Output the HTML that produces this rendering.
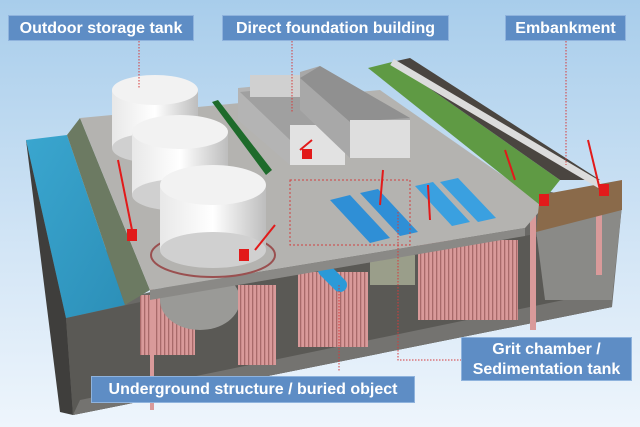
<!DOCTYPE html>
<html><head><meta charset="utf-8"><style>
html,body{margin:0;padding:0;}
body{width:640px;height:427px;overflow:hidden;background:linear-gradient(#a8cdeb,#d4e6f6 60%,#eef5fc);font-family:"Liberation Sans",sans-serif;position:relative;}
.lb{position:absolute;background:#5e8dc5;color:#fff;font-weight:bold;font-size:16px;line-height:26px;text-align:center;border:1px solid #8fb3dd;box-sizing:border-box;}
svg{position:absolute;left:0;top:0;}
</style></head><body>
<svg width="640" height="427" viewBox="0 0 640 427">
<defs>
<pattern id="pk" width="4" height="10" patternUnits="userSpaceOnUse"><rect width="4" height="10" fill="#d99a9a"/><rect width="1.3" height="10" fill="#a86a6a"/></pattern>
<linearGradient id="tk" x1="0" x2="1"><stop offset="0" stop-color="#e8e8e8"/><stop offset=".5" stop-color="#fff"/><stop offset="1" stop-color="#bdbdbd"/></linearGradient>
<linearGradient id="wt" x1="0" x2="1" y1="0" y2="1"><stop offset="0" stop-color="#3aa6cf"/><stop offset="1" stop-color="#2c8fb8"/></linearGradient>
</defs>
<!-- soil block -->
<polygon points="26,140 73,415 612,307 622,205 540,190 139,295" fill="#6a6966"/>
<polygon points="26,140 66,318 73,415 60,412" fill="#3f3e3c"/>
<polygon points="150,300 530,235 612,260 612,307 73,415 66,318" fill="#5a5955"/>
<polygon points="80,400 612,290 612,307 73,415" fill="#747370"/>
<polygon points="536,230 622,205 612,300 545,300" fill="#8a8a87"/>
<!-- underground pink piles -->
<rect x="140" y="295" width="55" height="60" fill="url(#pk)"/>
<ellipse cx="200" cy="300" rx="40" ry="30" fill="#9a9a97"/>
<rect x="238" y="285" width="38" height="80" fill="url(#pk)"/>
<rect x="298" y="272" width="70" height="75" fill="url(#pk)"/>
<rect x="370" y="255" width="45" height="30" fill="#9a9e8a"/>
<rect x="418" y="240" width="100" height="80" fill="url(#pk)"/>
<rect x="530" y="200" width="6" height="130" fill="#d99a9a"/>
<rect x="596" y="195" width="6" height="80" fill="#d99a9a"/>
<rect x="150" y="260" width="4" height="150" fill="#d99a9a"/>
<!-- blue pipe -->
<line x1="325" y1="270" x2="340" y2="285" stroke="#2b9ad8" stroke-width="14" stroke-linecap="round"/>
<!-- water + embankment -->
<polygon points="26,140 67,135 125,305 66,318" fill="url(#wt)"/>
<polygon points="67,135 80,118 150,290 125,305" fill="#6c7a62"/>
<!-- slab -->
<polygon points="80,118 380,90 545,205 525,228 150,290" fill="#b4b3b0"/>
<polygon points="150,290 525,228 525,236 150,300" fill="#8a8986"/>
<!-- embankment green & brown -->
<polygon points="368,68 392,62 560,180 540,205" fill="#5f9a44"/>
<polygon points="392,62 410,58 600,180 560,180" fill="#4a4540"/>
<polygon points="540,195 622,180 622,210 536,232" fill="#8a6a4a"/>
<line x1="392" y1="62" x2="600" y2="185" stroke="#dcdcdc" stroke-width="7"/>
<!-- buildings -->
<polygon points="238,88 300,82 345,140 345,165 290,165 238,120" fill="#b4b4b4"/>
<polygon points="240,92 300,86 340,138 290,140" fill="#a0a0a0"/>
<rect x="290" y="125" width="55" height="40" fill="#e2e2e2"/>
<rect x="250" y="75" width="50" height="22" fill="#d0d0d0"/>
<polygon points="300,72 320,66 410,118 410,155 350,158 300,110" fill="#a8a8a8"/>
<polygon points="320,66 410,118 350,122 300,78" fill="#909090"/>
<rect x="350" y="120" width="60" height="38" fill="#dedede"/>
<polygon points="212,102 218,100 272,170 266,175" fill="#1e6b2b"/>
<!-- tanks -->
<g>
<rect x="112" y="90" width="86" height="58" fill="url(#tk)"/><ellipse cx="155" cy="148" rx="43" ry="15" fill="#d0d0d0"/><ellipse cx="155" cy="90" rx="43" ry="15" fill="#f2f2f2"/>
<rect x="132" y="132" width="96" height="63" fill="url(#tk)"/><ellipse cx="180" cy="195" rx="48" ry="16" fill="#d0d0d0"/><ellipse cx="180" cy="132" rx="48" ry="17" fill="#f2f2f2"/>
<ellipse cx="213" cy="255" rx="62" ry="22" fill="none" stroke="#9a5050" stroke-width="2"/>
<rect x="160" y="185" width="106" height="65" fill="url(#tk)"/><ellipse cx="213" cy="250" rx="53" ry="18" fill="#d0d0d0"/><ellipse cx="213" cy="185" rx="53" ry="20" fill="#f2f2f2"/>
</g>
<!-- sedimentation tanks -->
<polygon points="330,200 350,195 390,238 370,243" fill="#2f8fd6"/>
<polygon points="360,193 378,189 418,232 400,236" fill="#2f8fd6"/>
<polygon points="415,186 433,182 470,222 452,226" fill="#3aa0e0"/>
<polygon points="440,182 458,178 496,218 478,222" fill="#3aa0e0"/>
<rect x="290" y="180" width="120" height="65" fill="none" stroke="#d04040" stroke-dasharray="2 2"/>
<!-- red machines -->
<g fill="#e21a1a" stroke="#e21a1a" stroke-width="2">
<line x1="118" y1="160" x2="134" y2="240"/><line x1="300" y1="150" x2="312" y2="140"/>
<line x1="255" y1="250" x2="275" y2="225"/><line x1="380" y1="205" x2="383" y2="170"/>
<line x1="430" y1="220" x2="428" y2="185"/><line x1="515" y1="180" x2="505" y2="150"/>
<line x1="600" y1="190" x2="588" y2="140"/>
<rect x="128" y="230" width="8" height="10"/><rect x="240" y="250" width="8" height="10"/>
<rect x="303" y="150" width="8" height="8"/><rect x="540" y="195" width="8" height="10"/><rect x="600" y="185" width="8" height="10"/>
</g>
<!-- leaders -->
<g stroke="#d63a3a" stroke-width="1" stroke-dasharray="1.5 1.5" fill="none">
<line x1="139" y1="41" x2="139" y2="88"/>
<line x1="292" y1="41" x2="292" y2="112"/>
<line x1="566" y1="41" x2="566" y2="165"/>
<line x1="339" y1="285" x2="339" y2="372"/>
<polyline points="398,212 398,360 461,360"/>
</g>
</svg>
<div class="lb" style="left:8px;top:15px;width:186px;height:26px;">Outdoor storage tank</div>
<div class="lb" style="left:222px;top:15px;width:227px;height:26px;">Direct foundation building</div>
<div class="lb" style="left:505px;top:15px;width:121px;height:26px;">Embankment</div>
<div class="lb" style="left:91px;top:376px;width:324px;height:27px;">Underground structure / buried object</div>
<div class="lb" style="left:461px;top:337px;width:171px;height:44px;line-height:20px;padding-top:2px;">Grit chamber /<br>Sedimentation tank</div>
</body></html>
